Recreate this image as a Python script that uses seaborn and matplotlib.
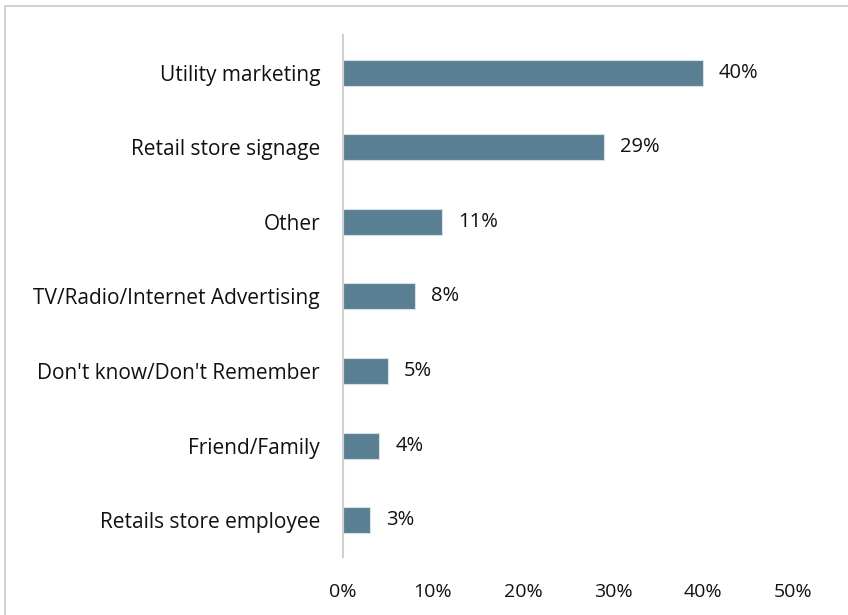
import matplotlib
matplotlib.use("Agg")
import matplotlib.pyplot as plt
import seaborn as sns
import pandas as pd
from matplotlib.patches import Rectangle

categories = [
    "Utility marketing",
    "Retail store signage",
    "Other",
    "TV/Radio/Internet Advertising",
    "Don't know/Don't Remember",
    "Friend/Family",
    "Retails store employee",
]
values = [40, 29, 11, 8, 5, 4, 3]
x_ticks = [0, 10, 20, 30, 40, 50]
x_tick_labels = ["0%", "10%", "20%", "30%", "40%", "50%"]

sns.set_style("white")
plt.rcParams["font.family"] = ["Open Sans", "DejaVu Sans"]

df = pd.DataFrame({"category": categories, "value": values})

fig = plt.figure(figsize=(8.48, 6.15), dpi=100)
ax = fig.add_axes([0.4045, 0.0935, 0.5305, 0.849])

sns.barplot(data=df, x="value", y="category", order=categories,
            color="#5B7F92", saturation=1, width=0.35,
            edgecolor="#D6E0E6", linewidth=0.8, ax=ax)

for i, v in enumerate(values):
    ax.text(v + 1.8, i, f"{v}%", va="center", ha="left",
            fontsize=14.5, color="#111111")

ax.set_xlim(0, 50)
ax.set_ylim(6.5, -0.5)
ax.set_xticks(x_ticks)
ax.set_xticklabels(x_tick_labels, fontsize=14, color="#111111")
ax.tick_params(axis="x", length=0, pad=18.5)
ax.tick_params(axis="y", length=0, pad=16.5, labelsize=15, labelcolor="#111111")
ax.set_xlabel("")
ax.set_ylabel("")
for side in ["top", "right", "bottom"]:
    ax.spines[side].set_visible(False)
ax.spines["left"].set_color("#D0D0D0")
ax.spines["left"].set_linewidth(1.5)

# outer frame around the chart area
fig.patches.append(Rectangle((5 / 848, -0.05), 1.1, 1 - 6 / 615 + 0.05,
                             transform=fig.transFigure, fill=False,
                             edgecolor="#C8C8C8", linewidth=1.2))

fig.savefig("out.png", dpi=100, facecolor="white")
